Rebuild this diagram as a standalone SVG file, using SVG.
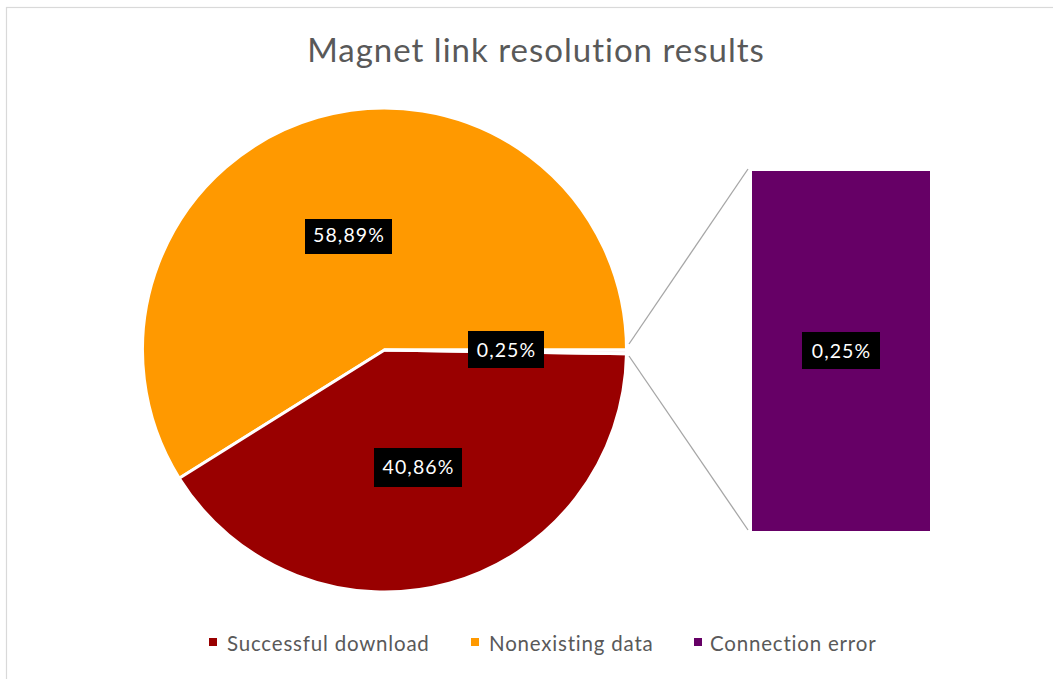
<svg xmlns="http://www.w3.org/2000/svg" width="1053" height="679" viewBox="0 0 1053 679">
  <style>
    .title { font-family: Lato, "Open Sans", "Liberation Sans", sans-serif; font-size: 33px; letter-spacing: 1px; fill: #595959; text-anchor: middle; }
    .slice { stroke: #ffffff; stroke-width: 3; stroke-linejoin: round; }
    .lbl-box { fill: #000000; }
    .lbl { font-family: Lato, "Open Sans", "Liberation Sans", sans-serif; font-size: 19.5px; letter-spacing: 1.1px; fill: #ffffff; text-anchor: middle; }
    .legend { font-family: Lato, "Open Sans", "Liberation Sans", sans-serif; font-size: 20.5px; letter-spacing: 0.8px; fill: #595959; }
    .leader { stroke: #a6a6a6; stroke-width: 1.3; fill: none; }
  </style>

  <!-- chart area -->
  <rect x="0" y="0" width="1053" height="679" fill="#ffffff"/>
  <rect x="6.5" y="7.5" width="1060" height="690" fill="none" stroke="#d9d9d9" stroke-width="1.2"/>

  <text class="title" x="536" y="62">Magnet link resolution results</text>

  <!-- main pie -->
  <g id="slice-nonexisting">
    <path class="slice" fill="#ff9900" d="M384.5,350 L179.27,478.24 A242,242 0 1,1 626.5,350 Z"/>
  </g>
  <g id="slice-successful">
    <path class="slice" fill="#990000" d="M384.5,350 L626.47,353.8 A242,242 0 0,1 179.27,478.24 Z"/>
  </g>
  <g id="slice-other">
    <path class="slice" fill="#fbe7e7" d="M384.5,350 L626.5,350 A242,242 0 0,1 626.47,353.8 Z"/>
  </g>

  <!-- leader lines to the secondary bar -->
  <g id="connectors">
    <line class="leader" x1="629" y1="344" x2="748" y2="169"/>
    <line class="leader" x1="629" y1="356" x2="748" y2="530"/>
  </g>

  <!-- secondary bar -->
  <g id="bar-connection-error">
    <rect x="752" y="171" width="178" height="360" fill="#660066"/>
  </g>

  <!-- data labels -->
  <g id="label-nonexisting">
    <rect class="lbl-box" x="305" y="219" width="87" height="35"/>
    <text class="lbl" x="349" y="242">58,89%</text>
  </g>
  <g id="label-other">
    <rect class="lbl-box" x="468" y="331" width="76" height="37"/>
    <text class="lbl" x="506.5" y="357">0,25%</text>
  </g>
  <g id="label-successful">
    <rect class="lbl-box" x="374" y="448" width="88" height="39"/>
    <text class="lbl" x="418.5" y="474">40,86%</text>
  </g>
  <g id="label-connection-error">
    <rect class="lbl-box" x="802" y="332" width="78" height="37"/>
    <text class="lbl" x="841.5" y="358">0,25%</text>
  </g>

  <!-- legend -->
  <g id="legend">
    <rect x="209" y="638" width="8" height="8" fill="#990000"/>
    <text class="legend" x="227" y="651">Successful download</text>
    <rect x="471" y="638" width="8" height="8" fill="#ff9900"/>
    <text class="legend" x="489" y="651">Nonexisting data</text>
    <rect x="694" y="638" width="8" height="8" fill="#660066"/>
    <text class="legend" x="710" y="651">Connection error</text>
  </g>
</svg>
